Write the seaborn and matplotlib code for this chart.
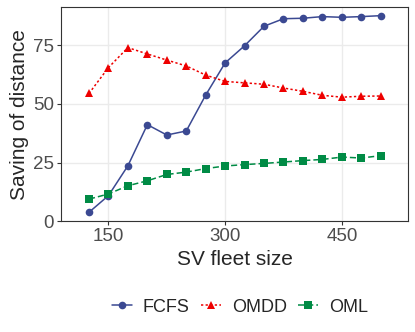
import pandas as pd
import matplotlib.pyplot as plt
import seaborn as sns

fleet = [125, 150, 175, 200, 225, 250, 275, 300, 325, 350, 375, 400, 425, 450, 475, 500]
fcfs = [3.9, 11.0, 23.7, 41.2, 36.8, 38.5, 53.8, 67.5, 74.8, 83.1, 86.3, 86.5, 87.2, 86.9, 87.2, 87.6]
omdd = [54.5, 65.5, 74.0, 71.3, 68.7, 66.2, 62.3, 59.6, 59.0, 58.4, 56.8, 55.4, 53.7, 52.9, 53.3, 53.4]
oml = [9.5, 11.7, 15.2, 17.3, 20.0, 21.0, 22.5, 23.6, 24.2, 24.7, 25.3, 25.9, 26.4, 27.4, 27.0, 28.0]
methods = ["FCFS", "OMDD", "OML"]

df = pd.DataFrame({
    "size": fleet * 3,
    "saving": fcfs + omdd + oml,
    "method": [m for m in methods for _ in fleet],
})

sns.set_style("white")
plt.rcParams['font.family'] = ['Liberation Sans', 'DejaVu Sans']

fig = plt.figure(figsize=(4.15, 3.32), dpi=100)
ax = fig.add_axes([0.147, 0.333, 0.836, 0.646])

palette = {"FCFS": "#3B4992", "OMDD": "#EE0000", "OML": "#008B45"}
dashes = {"FCFS": "", "OMDD": (1.5, 1.5), "OML": (4, 2)}
markers = {"FCFS": "o", "OMDD": "^", "OML": "s"}

sns.lineplot(data=df, x="size", y="saving", hue="method", style="method",
             palette=palette, dashes=dashes, markers=markers,
             markersize=5.5, markeredgewidth=0, linewidth=1.1, ax=ax, legend=True)

ax.set_xlim(89, 535)
ax.set_ylim(0, 91.3)
ax.set_xticks([150, 300, 450])
ax.set_yticks([0, 25, 50, 75])
ax.grid(True, color="#EBEBEB", linewidth=1.0)
ax.set_axisbelow(True)
for s in ax.spines.values():
    s.set_color("#333333")
    s.set_linewidth(0.8)
ax.tick_params(axis="both", which="both", length=3, width=0.8, color="#333333",
               labelsize=13.5, labelcolor="#4D4D4D", direction="out", pad=2,
               bottom=True, left=True)
ax.set_xlabel("SV fleet size", fontsize=15, labelpad=3)
ax.set_ylabel("Saving of distance", fontsize=15, labelpad=3)

handles, labels = ax.get_legend_handles_labels()
ax.get_legend().remove()
fig.legend(handles, labels, loc="center", bbox_to_anchor=(0.578, 0.075), ncol=3,
           frameon=False, fontsize=13, handlelength=1.1, columnspacing=0.65,
           handletextpad=0.6)

fig.savefig("out.png", dpi=100)
